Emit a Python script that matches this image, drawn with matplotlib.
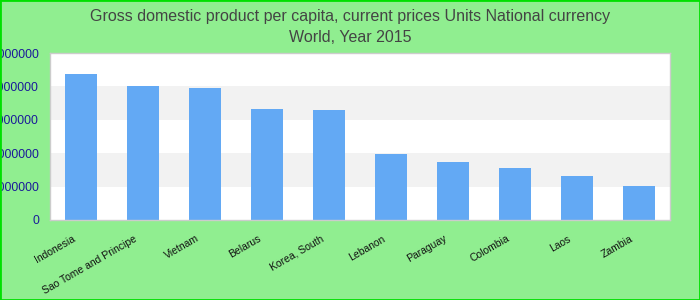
import matplotlib
matplotlib.use("Agg")
import matplotlib.pyplot as plt
from matplotlib.patches import Rectangle
from matplotlib.transforms import ScaledTranslation

countries = ["Indonesia", "Sao Tome and Principe", "Vietnam", "Belarus", "Korea, South",
             "Lebanon", "Paraguay", "Colombia", "Laos", "Zambia"]
values = [43700000, 40100000, 39500000, 33200000, 32900000,
          19800000, 17400000, 15600000, 13200000, 10200000]
yticks = [0, 10000000, 20000000, 30000000, 40000000, 50000000]
title = "Gross domestic product per capita, current prices Units National currency\nWorld, Year 2015"

plt.rcParams['font.family'] = ['Liberation Sans', 'DejaVu Sans']

fig = plt.figure(figsize=(7, 3), dpi=100, facecolor='#90EE90')
ax = fig.add_axes([50/700, 1-220/300, 620/700, 167/300])
ax.set_facecolor('white')

# alternating bands
for i in range(len(yticks)-1):
    if i % 2 == 1:
        ax.axhspan(yticks[i], yticks[i+1], color='#f2f2f2', zorder=0, lw=0)

ax.bar(range(len(countries)), values, width=0.52, color='#63a9f4', zorder=2)
ax.set_xlim(-0.5, len(countries)-0.5)
ax.set_ylim(yticks[0], yticks[-1])
ax.set_yticks(yticks)
ax.set_yticklabels([str(v) for v in yticks], color='#1a1a99', fontsize=8.8)
ax.tick_params(axis='y', length=0, pad=8)
ax.set_xticks(range(len(countries)))
ax.set_xticklabels(countries, rotation=30, ha='right', rotation_mode='anchor', fontsize=7.5, color='#111111')
ax.tick_params(axis='x', length=0, pad=9)
shift = ScaledTranslation(-9/100, -1/100, fig.dpi_scale_trans)
for lbl in ax.get_xticklabels():
    lbl.set_transform(lbl.get_transform() + shift)
for s in ax.spines.values():
    s.set_color('#cccccc')
    s.set_linewidth(1)

fig.text(0.5, 1-17/300, title.split("\n")[0], ha='center', va='center', fontsize=11.5, color='#444444')
fig.text(0.5, 1-37/300, title.split("\n")[1], ha='center', va='center', fontsize=11.5, color='#444444')

fig.patches.append(Rectangle((0, 0), 1, 1, transform=fig.transFigure, fill=False,
                             edgecolor='#00e000', linewidth=2, zorder=10))

fig.savefig('out.png', dpi=100, facecolor=fig.get_facecolor())
